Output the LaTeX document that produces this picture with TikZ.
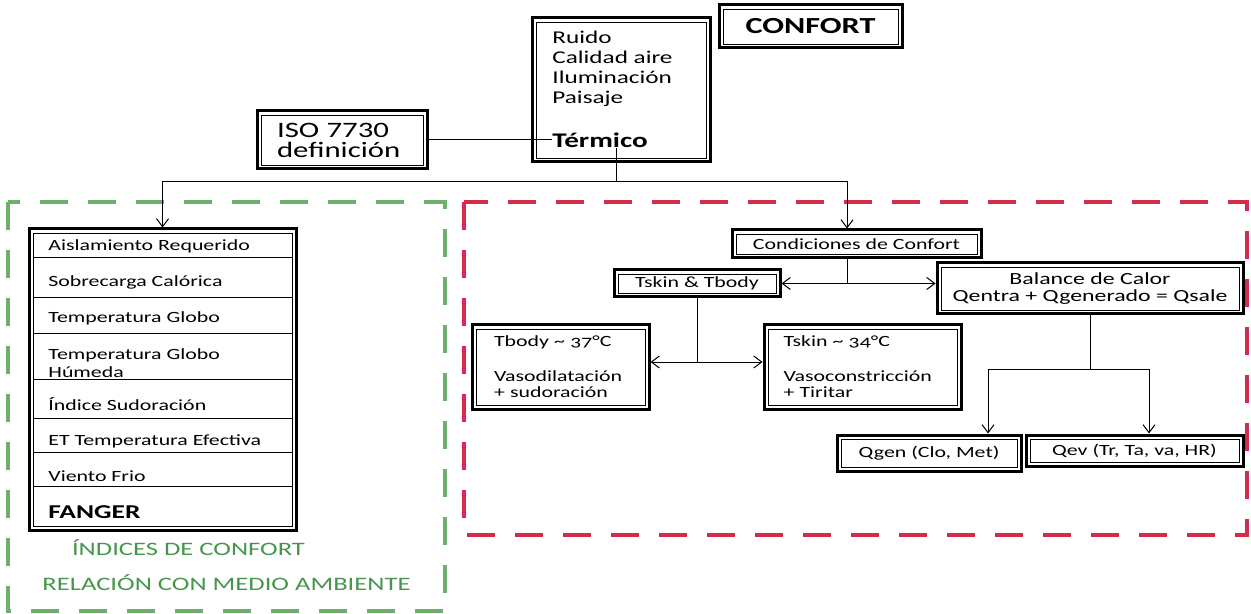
\documentclass[tikz,border=0pt]{standalone}
\usepackage{fontspec}
\setmainfont{Carlito}[FakeStretch=1.4]
\usepackage{tikz}
\usetikzlibrary{arrows.meta}

\definecolor{verdeborde}{RGB}{108,176,108}
\definecolor{verdetexto}{RGB}{70,150,75}
\definecolor{rojoborde}{RGB}{214,44,74}

\tikzset{
  dbox/.style={draw, line width=1.5pt, inner sep=0pt, align=center,
    font=\fontsize{7.8}{8}\selectfont,
    path picture={\draw[line width=0.4pt]
      ([shift={(2pt,2pt)}]path picture bounding box.south west) rectangle
      ([shift={(-2pt,-2pt)}]path picture bounding box.north east);}},
  linea/.style={line width=0.5pt},
  flecha/.style={line width=0.5pt, -{Straight Barb[length=4pt,width=6pt]}},
  dobleflecha/.style={line width=0.5pt,
    {Straight Barb[length=4pt,width=6pt]}-{Straight Barb[length=4pt,width=6pt]}},
  marco/.style={line width=2pt, dash pattern=on 14pt off 10pt},
  fila/.style={anchor=base west, inner sep=0pt, font=\fontsize{7.8}{9}\selectfont},
  rotulo/.style={anchor=base, inner sep=0pt, text=verdetexto,
    font=\fontsize{9.5}{10}\selectfont}
}

\begin{document}
\begin{tikzpicture}[x=0.5pt, y=-0.5pt]
            \fill[white] (0,0) rectangle (1251,614);
            \useasboundingbox (0,0) rectangle (1251,614);
            % marcos
            \draw[marco, verdeborde] (8,202) rectangle (445,611);
            \draw[marco, rojoborde] (464,202) rectangle (1247,535);
            % parte alta
            \node[dbox, minimum width=91.5pt, minimum height=21.5pt,
              font=\fontsize{11.5}{12}\selectfont\bfseries] (confort) at (810.5,26.5) {CONFORT};
            \node[dbox, minimum width=89pt, minimum height=72pt] (ambitos) at (621,90) {};
            \node[anchor=north west, inner sep=0pt, align=left,
              font=\fontsize{9}{10}\selectfont] (factores) at (552,31) {Ruido\\Calidad aire\\Iluminación\\Paisaje};
            \node[anchor=base west, inner sep=0pt,
              font=\fontsize{10.4}{11}\selectfont\bfseries] (termico) at (552,148) {Térmico};
            \node[dbox, minimum height=29pt, text width=65pt, inner xsep=10pt, align=left,
              font=\fontsize{11}{10}\selectfont] (iso) at (342,140) {ISO 7730\\definición};
            \coordinate (rama) at (616,182);
            % indices
            \node[dbox, minimum width=133.5pt, minimum height=150.5pt] (indices) at (162.5,379.5) {};
            \draw[linea] (33,258) -- (292,258) (33,298) -- (292,298) (33,334) -- (292,334)
              (33,379) -- (292,379) (33,418) -- (292,418) (33,452) -- (292,452) (33,486) -- (292,486);
            \node[fila] (aislamiento) at (48,251) {Aislamiento Requerido};
            \node[fila] (sobrecarga) at (48,287) {Sobrecarga Calórica};
            \node[fila] (globo) at (48,322) {Temperatura Globo};
            \node[fila, align=left] (humeda) at (48,377) {Temperatura Globo\\Húmeda};
            \node[fila] (sudoracion) at (48,410) {Índice Sudoración};
            \node[fila] (efectiva) at (48,445) {ET Temperatura Efectiva};
            \node[fila] (viento) at (48,481) {Viento Frio};
            \node[fila, font=\fontsize{9.8}{10}\selectfont\bfseries] (fanger) at (48,518) {FANGER};
            \node[rotulo] (titindices) at (188.5,555) {ÍNDICES DE CONFORT};
            \node[rotulo] (titrelacion) at (226.5,590) {RELACIÓN CON MEDIO AMBIENTE};
            % condiciones
            \node[dbox, minimum width=124.5pt, minimum height=14pt] (condiciones) at (856.5,244) {Condiciones de Confort};
            \node[dbox, minimum width=83pt, minimum height=13.5pt] (tsk) at (697,283.5) {Tskin \& Tbody};
            \node[dbox, minimum width=153pt, minimum height=25.5pt,
              font=\fontsize{8.5}{8.5}\selectfont] (balance) at (1090,288.5) {Balance de Calor\\Qentra + Qgenerado = Qsale};
            \node[dbox, minimum height=42pt, text width=66.5pt, inner xsep=11pt, align=left] (tbody) at (560.5,367)
              {Tbody \textasciitilde{} {\addfontfeatures{Numbers=OldStyle}37}°C\\[9.5pt]Vasodilatación\\+ sudoración};
            \node[dbox, minimum height=42pt, text width=79pt, inner xsep=9.75pt, align=left] (tskin) at (862.5,367)
              {Tskin \textasciitilde{} {\addfontfeatures{Numbers=OldStyle}34}°C\\[9.5pt]Vasoconstricción\\+ Tiritar};
            \node[dbox, minimum width=92pt, minimum height=18pt] (qgen) at (929,453) {Qgen (Clo, Met)};
            \node[dbox, minimum width=108.5pt, minimum height=15.5pt] (qev) at (1134.5,450.5) {Qev (Tr, Ta, va, HR)};
            \coordinate (cruce) at (tsk.south |- 0,362);
            \coordinate (reparto) at (balance.south |- 0,369);
            % conexiones
            \draw[linea] (iso.east) -- (iso.east -| termico.west);
            \draw[linea] (rama |- termico.base) -- (rama);
            \draw[flecha] (rama) -| (indices.north);
            \draw[flecha] (rama) -| ([xshift=-4.75pt]condiciones.north);
            \draw[linea] ([xshift=-4.75pt]condiciones.south) -- ([xshift=-4.75pt]condiciones.south |- tsk.east);
            \draw[dobleflecha] (tsk.east) -- (tsk.east -| balance.west);
            \draw[linea] (tsk.south) -- (cruce);
            \draw[dobleflecha] ([yshift=2.5pt]tbody.east) -- ([yshift=2.5pt]tbody.east -| tskin.west);
            \draw[linea] (balance.south) -- (reparto);
            \draw[flecha] (reparto) -| ([xshift=29.5pt]qgen.north);
            \draw[flecha] (reparto) -| ([xshift=7.25pt]qev.north);
\end{tikzpicture}
\end{document}
